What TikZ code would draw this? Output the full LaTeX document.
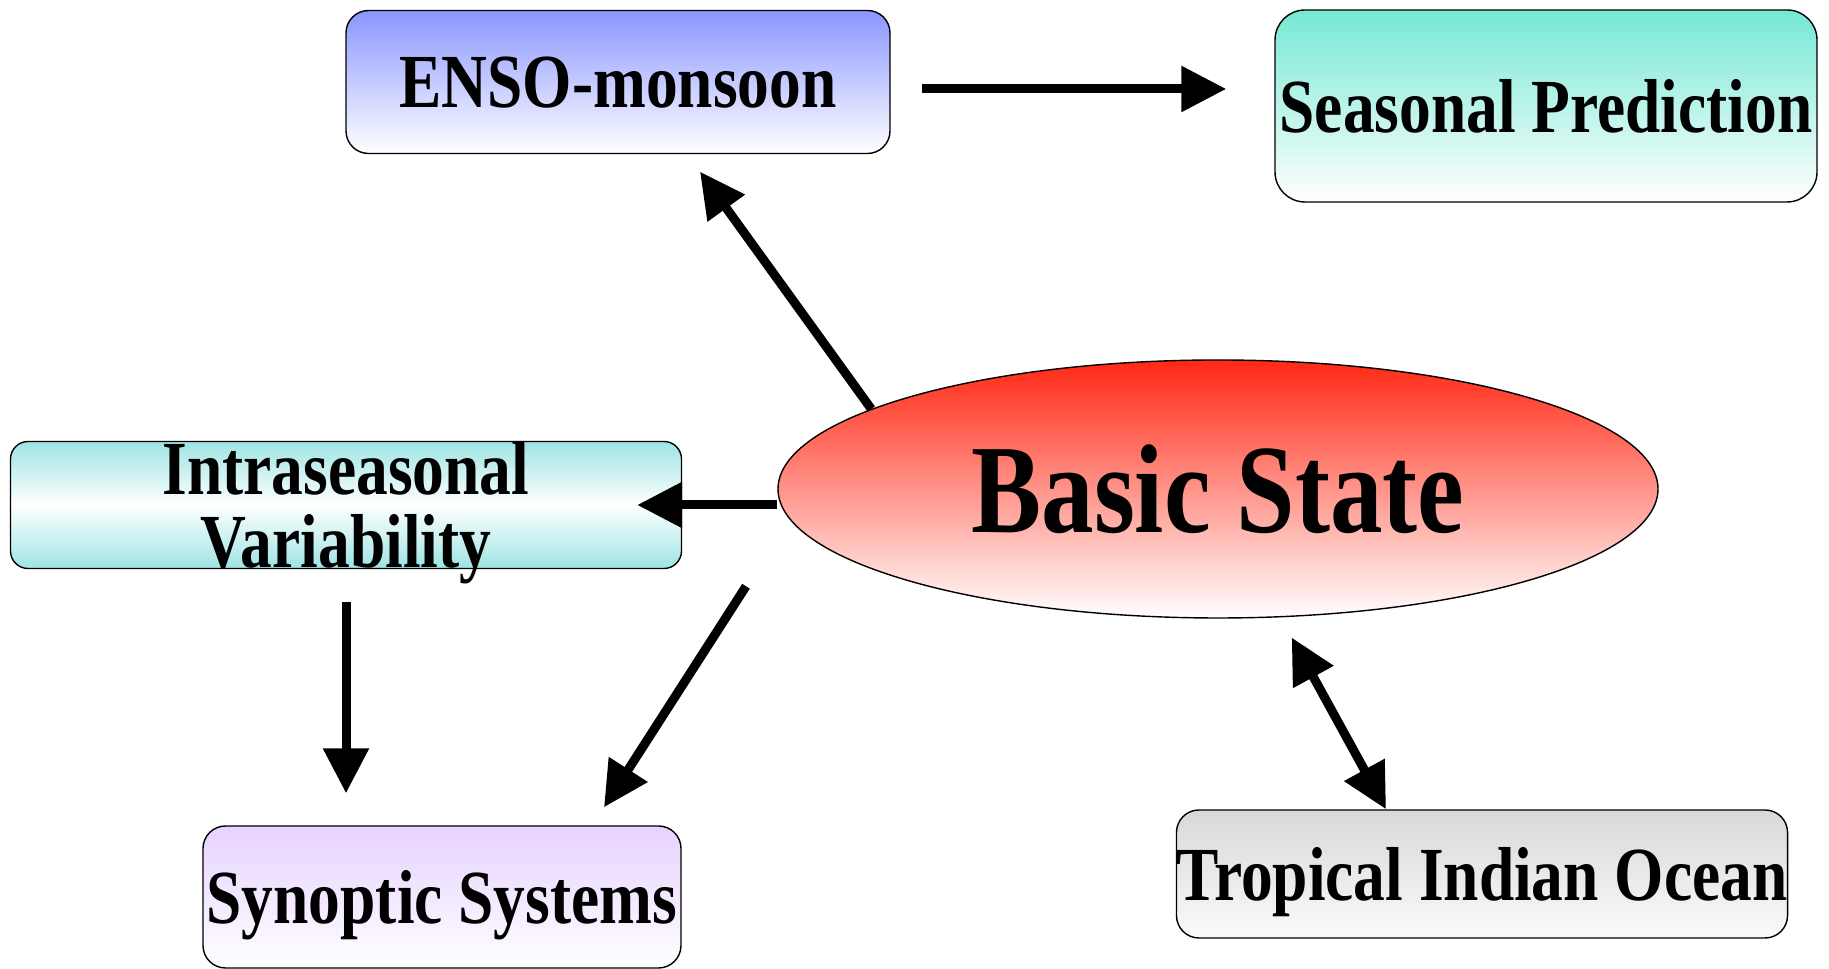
\documentclass[tikz,border=0pt]{standalone}
\usepackage{fontspec}
\newfontfamily\boxfont{Liberation Serif Bold}[FakeStretch=0.83]
\usetikzlibrary{positioning,arrows.meta,calc,shapes.geometric}
\definecolor{ensotop}{RGB}{138,150,255}
\definecolor{seasontop}{RGB}{118,232,212}
\definecolor{intratop}{RGB}{158,228,228}
\definecolor{synoptop}{RGB}{230,210,255}
\definecolor{oceantop}{RGB}{216,216,216}
\definecolor{basictop}{RGB}{255,40,20}

\begin{document}
\begin{tikzpicture}[box/.style={draw, rounded corners=0.45cm, line width=0.8pt, inner sep=0pt, text depth=0pt,
                      align=center, font=\boxfont\fontsize{43.5}{41.5}\selectfont},
                  arr/.style={-{Triangle[length=0.9cm,width=0.88cm]}, line width=0.18cm},
                  dblarr/.style={{Triangle[length=0.9cm,width=0.88cm]}-{Triangle[length=0.9cm,width=0.88cm]}, line width=0.18cm}]
    \useasboundingbox (0,0) rectangle (36.58,19.38);
    \node (basic)[ellipse, draw, line width=0.8pt, minimum width=17.6cm, minimum height=5.16cm,
                  top color=basictop, bottom color=white,
                  font=\boxfont\fontsize{72}{72}\selectfont] at (24.36,9.60) {Basic State};
    \node (enso)[box, minimum width=10.88cm, minimum height=2.86cm,
                 top color=ensotop, bottom color=white] at (12.36,17.74) {ENSO-monsoon};
    \node (season)[box, rounded corners=0.6cm, minimum width=10.84cm, minimum height=3.84cm,
                   top color=seasontop, bottom color=white] at (30.92,17.26) {Seasonal Prediction};
    \node (intra)[box, rounded corners=0.35cm, minimum width=13.42cm, minimum height=2.54cm,
                  top color=intratop, bottom color=intratop, middle color=white,
                  label={[font=\boxfont\fontsize{43.5}{41.5}\selectfont, align=center, yshift=-0.16cm]center:Intraseasonal\\Variability}] at (6.92,9.28) {};
    \node (synop)[box, minimum width=9.56cm, minimum height=2.84cm,
                  top color=synoptop, bottom color=white] at (8.84,1.44) {Synoptic Systems};
    \node (ocean)[box, minimum width=12.16cm, minimum height=2.56cm,
                  top color=oceantop, bottom color=white!98!black] at (29.64,1.90) {Tropical Indian Ocean};
    \draw[arr, shorten <=0.62cm, shorten >=0.96cm] ([yshift=-0.14cm]enso.east) -- ([yshift=-0.14cm]enso.east -| season.west);
    \draw[arr] (basic.167) -- ($(enso.south)+(1.64,-0.35)$);
    \draw[arr] (basic.west |- intra.east) -- ($(intra.east)+(-0.9,0)$);
    \draw[arr, shorten <=1.6cm] (basic.184) -- ($(synop.north)+(3.24,0.36)$);
    \draw[arr, shorten <=0.66cm, shorten >=0.64cm] (intra.south) -- (intra.south |- synop.north);
    \draw[dblarr, shorten <=0.46cm] (basic.296) -- ($(ocean.north)+(-1.92,0)$);
  \end{tikzpicture}
\end{document}
